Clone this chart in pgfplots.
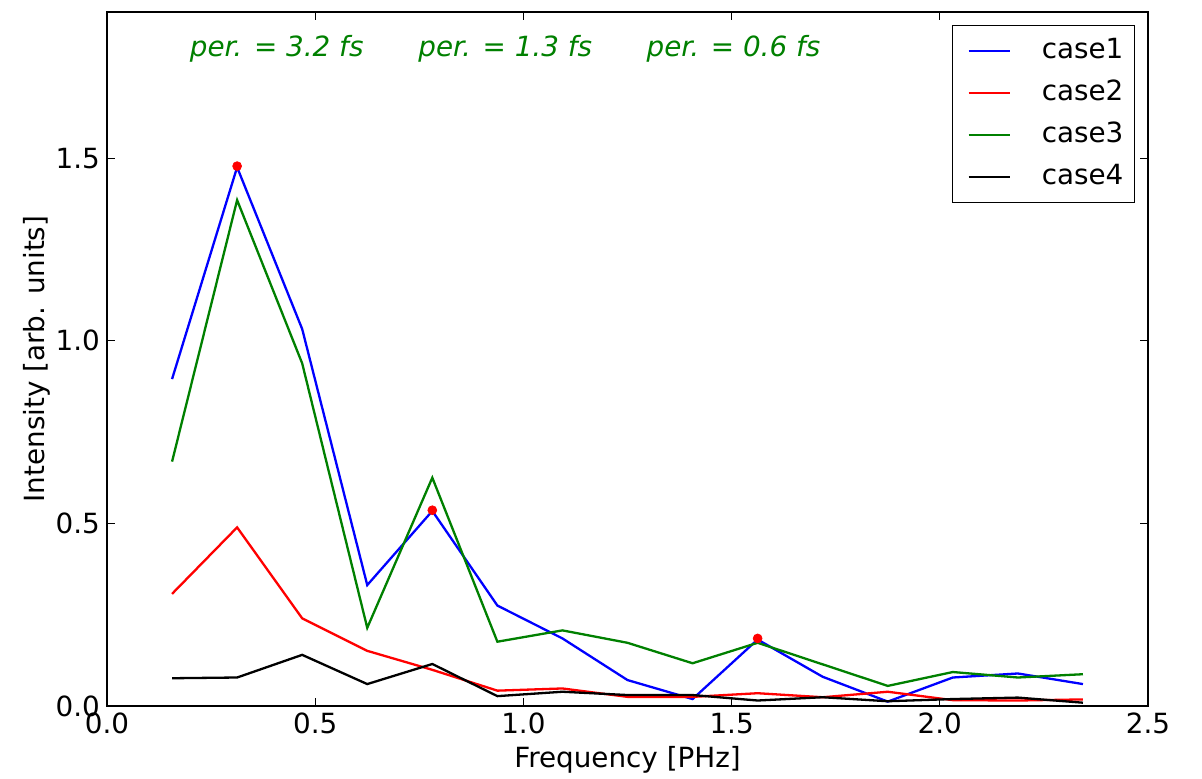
\documentclass[border=0pt]{standalone}
\usepackage{fontspec}
\setmainfont{DejaVu Sans}
\usepackage{pgfplots}
\pgfplotsset{compat=1.18}
\definecolor{mgreen}{rgb}{0,0.5,0}
\newcommand{\fs}{\fontsize{13.9pt}{16pt}\selectfont}
\begin{document}
\begin{tikzpicture}
\begin{axis}[
  scale only axis, width=520.5pt, height=347pt,
  xmin=0, xmax=2.5, ymin=0, ymax=1.9,
  xtick={0,0.5,1,1.5,2,2.5}, ytick={0,0.5,1,1.5},
  minor tick num=0,
  tick align=inside, tick pos=both,
  major tick length=4pt,
  axis line style={line width=0.6pt},
  every tick/.style={black, line width=0.5pt},
  xticklabel style={font=\fs, /pgf/number format/.cd, fixed, fixed zerofill, precision=1, assume math mode=true},
  yticklabel style={font=\fs, /pgf/number format/.cd, fixed, fixed zerofill, precision=1, assume math mode=true},
  scaled ticks=false,
  xlabel={Frequency [PHz]}, ylabel={Intensity [arb. units]},
  label style={font=\fs},
  xlabel style={at={(axis description cs:0.5,-0.0778)}, anchor=center},
  ylabel style={at={(axis description cs:-0.0672,0.5)}, anchor=center},
  legend cell align=left,
  legend image code/.code={\path (0pt,0pt); \draw[#1] (2pt,0pt) -- (22.5pt,0pt);},
  legend style={at={(1,1)}, anchor=north east, xshift=-6.5pt, yshift=-6.5pt,
    draw=black, line width=0.6pt, font=\fs, inner xsep=5.5pt, inner ysep=4.25pt,
    row sep=4pt, column sep=0pt,
    nodes={inner xsep=0pt, inner ysep=2pt, text height=10pt, text depth=3pt},
    /tikz/every odd column/.append style={column sep=15.5pt}},
]
\addplot[only marks, mark=*, mark size=2.2pt, red, forget plot] coordinates {
 (0.3125,1.478) (0.78125,0.536) (1.5625,0.185)};
\addplot[blue, line width=1.15pt] coordinates {
 (0.15625,0.895) (0.3125,1.475) (0.46875,1.032) (0.625,0.331) (0.78125,0.534)
 (0.9375,0.275) (1.09375,0.185) (1.25,0.071) (1.40625,0.019) (1.5625,0.182)
 (1.71875,0.080) (1.875,0.012) (2.03125,0.078) (2.1875,0.089) (2.34375,0.060)};
\addlegendentry{case1}
\addplot[red, line width=1.15pt] coordinates {
 (0.15625,0.307) (0.3125,0.489) (0.46875,0.240) (0.625,0.151) (0.78125,0.099)
 (0.9375,0.042) (1.09375,0.048) (1.25,0.025) (1.40625,0.025) (1.5625,0.035)
 (1.71875,0.024) (1.875,0.039) (2.03125,0.016) (2.1875,0.015) (2.34375,0.018)};
\addlegendentry{case2}
\addplot[mgreen, line width=1.15pt] coordinates {
 (0.15625,0.669) (0.3125,1.385) (0.46875,0.938) (0.625,0.214) (0.78125,0.625)
 (0.9375,0.176) (1.09375,0.207) (1.25,0.173) (1.40625,0.117) (1.5625,0.173)
 (1.71875,0.114) (1.875,0.055) (2.03125,0.093) (2.1875,0.078) (2.34375,0.087)};
\addlegendentry{case3}
\addplot[black, line width=1.15pt] coordinates {
 (0.15625,0.076) (0.3125,0.078) (0.46875,0.140) (0.625,0.060) (0.78125,0.115)
 (0.9375,0.027) (1.09375,0.039) (1.25,0.030) (1.40625,0.030) (1.5625,0.015)
 (1.71875,0.024) (1.875,0.013) (2.03125,0.019) (2.1875,0.023) (2.34375,0.009)};
\addlegendentry{case4}
\node[anchor=base west, text=mgreen, font=\fs\itshape] at (axis cs:0.182,1.777) {per. = 3.2 fs};
\node[anchor=base west, text=mgreen, font=\fs\itshape] at (axis cs:0.731,1.777) {per. = 1.3 fs};
\node[anchor=base west, text=mgreen, font=\fs\itshape] at (axis cs:1.279,1.777) {per. = 0.6 fs};
\end{axis}
\pgfresetboundingbox
\path[use as bounding box] (-53.5pt,-36.5pt) rectangle (547.5pt,353pt);
\end{tikzpicture}
\end{document}
